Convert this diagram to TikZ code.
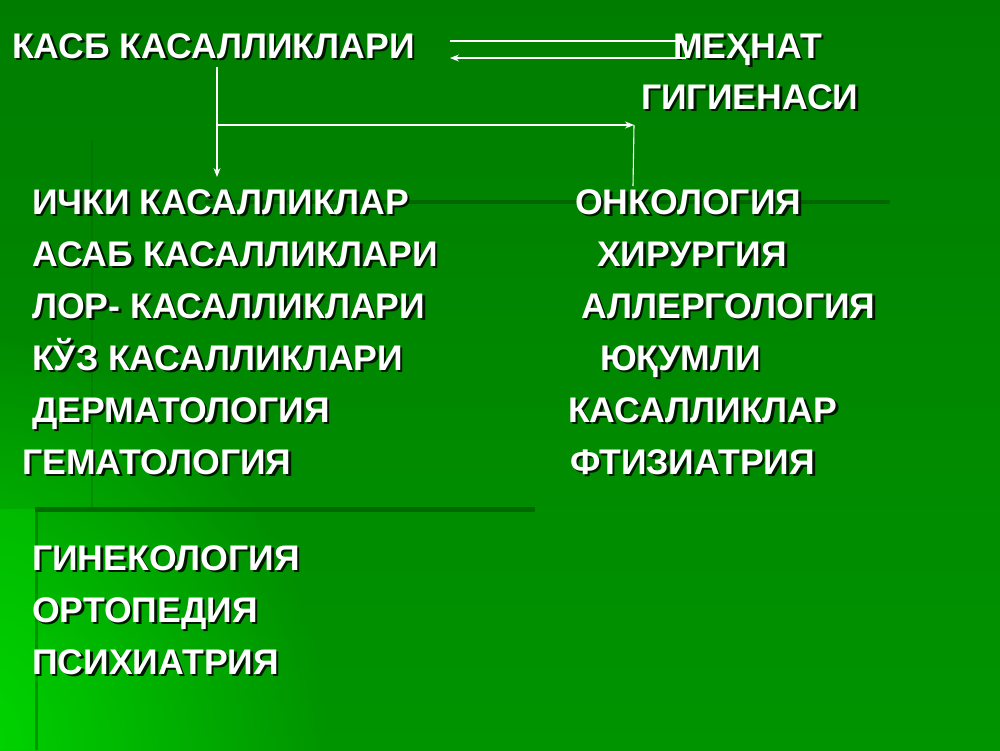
\documentclass[tikz,border=0pt]{standalone}
\usepackage{fontspec}
\setmainfont{Liberation Sans}
\usetikzlibrary{arrows.meta,fadings}
\definecolor{bgtop}{RGB}{0,125,0}
\definecolor{bgmid}{RGB}{0,140,0}
\definecolor{bgbot}{RGB}{0,148,0}
\definecolor{bgleft}{RGB}{0,215,0}
\definecolor{deco}{RGB}{0,95,0}
\definecolor{shad}{RGB}{0,25,0}
\tikzfading[name=myradial, inner color=transparent!0, outer color=transparent!100]
\newcommand\shtext[1]{\makebox[0pt][l]{\hspace{2.5pt}\raisebox{-2.5pt}{\textcolor{shad}{#1}}}#1}
\tikzset{
  lbl/.style={anchor=base west,inner sep=0pt,text=white,font=\fontsize{35.6}{40}\selectfont\bfseries},
  conn/.style={draw=white,line width=1.1pt},
  arr/.style={conn,-{Stealth[length=9pt,width=7pt]}},
  decoline/.style={draw=deco,line width=4pt,opacity=0.8}
}
\newcommand\mylbl[4]{\node[lbl] (#1) at (#2,#3) {\shtext{#4}};}
\begin{document}
\begin{tikzpicture}[x=1pt,y=-1pt]
\useasboundingbox (0,0) rectangle (1000,750);
% background
\shade[top color=bgtop,bottom color=bgbot] (0,0) rectangle (1000,750);
\fill[bgleft,path fading=myradial,fit fading=true] (-420,330) rectangle (330,1170);
\fill[bgleft,opacity=0.35] (0,509) rectangle (35,750);
% decorative lines
\draw[decoline] (205,202) -- (890,202);
\draw[decoline,line width=5pt] (35,509) -- (535,509);
\draw[decoline,line width=2pt,opacity=0.3] (92,140) -- (92,509);
\draw[decoline,line width=3pt,opacity=0.45] (36,509) -- (36,750);
% labels
\mylbl{kasb}{12}{58}{КАСБ КАСАЛЛИКЛАРИ}
\mylbl{mehnat}{673}{58}{МЕҲНАТ}
\mylbl{gigiena}{641}{109}{ГИГИЕНАСИ}
\mylbl{ichki}{32}{214}{ИЧКИ КАСАЛЛИКЛАР}
\mylbl{asab}{32}{266}{АСАБ КАСАЛЛИКЛАРИ}
\mylbl{lor}{32}{318}{ЛОР- КАСАЛЛИКЛАРИ}
\mylbl{kuz}{32}{370}{КЎЗ КАСАЛЛИКЛАРИ}
\mylbl{derm}{32}{422}{ДЕРМАТОЛОГИЯ}
\mylbl{gem}{22}{474}{ГЕМАТОЛОГИЯ}
\mylbl{gin}{32}{570}{ГИНЕКОЛОГИЯ}
\mylbl{orto}{32}{622}{ОРТОПЕДИЯ}
\mylbl{psix}{32}{674}{ПСИХИАТРИЯ}
\mylbl{onko}{575}{214}{ОНКОЛОГИЯ}
\mylbl{xir}{597}{266}{ХИРУРГИЯ}
\mylbl{allerg}{581}{318}{АЛЛЕРГОЛОГИЯ}
\mylbl{yuq}{600}{370}{ЮҚУМЛИ}
\mylbl{kasal}{568}{422}{КАСАЛЛИКЛАР}
\mylbl{ftiz}{570}{474}{ФТИЗИАТРИЯ}
% connector points
\coordinate (t1a) at (450,41);
\coordinate (t1b) at (686,41);
\coordinate (t2a) at (686,58);
\coordinate (t2b) at (450,58);
\coordinate (v0) at (217,67);
\coordinate (vb) at (217,125);
\coordinate (v1) at (217,177);
\coordinate (h1) at (634,125);
\coordinate (v2) at (633,186);
% connectors
\draw[arr] (t1a) -- (t1b);
\draw[arr] (t2a) -- (t2b);
\draw[conn] (t1b) -- (t2a);
\draw[arr] (v0) -- (v1);
\draw[arr] (vb) -- (h1);
\draw[conn] (h1) -- (v2);
\end{tikzpicture}
\end{document}
